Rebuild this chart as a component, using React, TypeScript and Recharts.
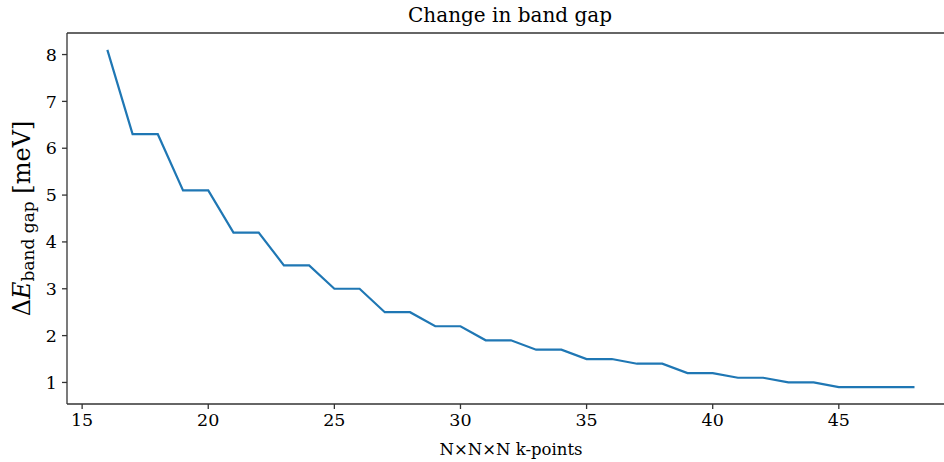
import { LineChart, Line, XAxis, YAxis, ReferenceLine, Label } from 'recharts';

const kPoints = [16, 17, 18, 19, 20, 21, 22, 23, 24, 25, 26, 27, 28, 29, 30, 31, 32, 33, 34, 35, 36, 37, 38, 39, 40, 41, 42, 43, 44, 45, 46, 47, 48];
const gapChange = [8.1, 6.3, 6.3, 5.1, 5.1, 4.2, 4.2, 3.5, 3.5, 3.0, 3.0, 2.5, 2.5, 2.2, 2.2, 1.9, 1.9, 1.7, 1.7, 1.5, 1.5, 1.4, 1.4, 1.2, 1.2, 1.1, 1.1, 1.0, 1.0, 0.9, 0.9, 0.9, 0.9];
const xTicks = [15, 20, 25, 30, 35, 40, 45];
const yTicks = [1, 2, 3, 4, 5, 6, 7, 8];

const X_MIN = 14.4;
const X_MAX = 49.17;
const Y_MIN = 0.54;
const Y_MAX = 8.46;

const FONT = '"DejaVu Serif", serif';
const SPINE = '#333';

const data = kPoints.map((k, i) => ({ k, dE: gapChange[i] }));

// y label with the subscript, rotated
const YLabel = ({ viewBox }: any) => {
  const cx = 22;
  const cy = viewBox.y + viewBox.height / 2;
  return (
    <text
      x={cx}
      y={cy}
      transform={`rotate(-90, ${cx}, ${cy})`}
      textAnchor="middle"
      dominantBaseline="central"
      fontFamily={FONT}
      fontSize={24}
      fill="#000"
    >
      <tspan>Δ</tspan>
      <tspan fontStyle="italic">E</tspan>
      <tspan fontSize={17} dy={6}>band gap</tspan>
      <tspan dy={-6}>{'  [meV]'}</tspan>
    </text>
  );
};

const XLabel = ({ viewBox }: any) => (
  <text
    x={511}
    y={viewBox.y + 51}
    textAnchor="middle"
    fontFamily={FONT}
    fontSize={16.5}
    fill="#000"
  >
    N×N×N k-points
  </text>
);

export default function App() {
  return (
    <div style={{ position: 'absolute', left: 0, top: 0, width: 944, height: 462, background: '#fff' }}>
      <div style={{
        position: 'absolute', left: 0, width: 1020, top: 3, textAlign: 'center',
        fontFamily: FONT, fontSize: 20, color: '#000', lineHeight: '24px',
      }}>
        Change in band gap
      </div>
      <LineChart width={944} height={462} data={data} margin={{ top: 33, right: 0, bottom: 0, left: 7 }}>
        <XAxis
          dataKey="k"
          type="number"
          domain={[X_MIN, X_MAX]}
          ticks={xTicks}
          allowDataOverflow
          height={58}
          tick={{ fill: '#000', fontSize: 17.5, fontFamily: FONT }}
          tickSize={5}
          tickMargin={5}
          stroke={SPINE}
          strokeWidth={1.3}
        >
          <Label content={<XLabel />} />
        </XAxis>
        <YAxis
          type="number"
          domain={[Y_MIN, Y_MAX]}
          ticks={yTicks}
          allowDataOverflow
          width={60}
          tick={{ fill: '#000', fontSize: 17.5, fontFamily: FONT }}
          tickSize={5}
          tickMargin={5}
          stroke={SPINE}
          strokeWidth={1.3}
        >
          <Label content={<YLabel />} />
        </YAxis>
        <ReferenceLine y={Y_MAX} stroke={SPINE} strokeWidth={1.3} ifOverflow="visible" />
        <Line
          dataKey="dE"
          type="linear"
          stroke="#1f77b4"
          strokeWidth={2.2}
          dot={false}
          isAnimationActive={false}
        />
      </LineChart>
    </div>
  );
}
